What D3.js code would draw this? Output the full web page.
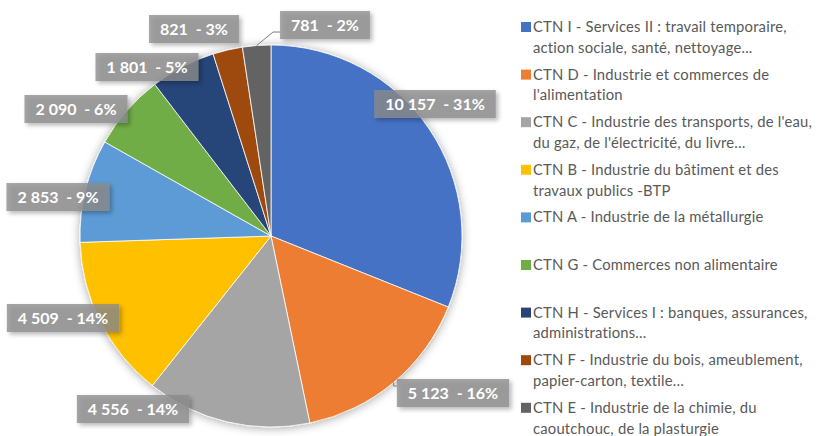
<!DOCTYPE html>
<html>
<head>
<meta charset="utf-8">
<script src="https://cdn.jsdelivr.net/npm/d3@7"></script>
<style>
  html, body { margin: 0; padding: 0; background: #fff; }
  svg { display: block; }
</style>
</head>
<body>
<svg id="chart" width="820" height="436"></svg>
<script>
// Branch codes (CTN) and their legend text, line breaks marked with "\n"
const categories = [
  "CTN I - Services II : travail temporaire,\naction sociale, santé, nettoyage...",
  "CTN D - Industrie et commerces de\nl'alimentation",
  "CTN C - Industrie des transports, de l'eau,\ndu gaz, de l'électricité, du livre…",
  "CTN B - Industrie du bâtiment et des\ntravaux publics -BTP",
  "CTN A - Industrie de la métallurgie",
  "CTN G - Commerces non alimentaire",
  "CTN H - Services I : banques, assurances,\nadministrations...",
  "CTN F - Industrie du bois, ameublement,\npapier-carton, textile…",
  "CTN E - Industrie de la chimie, du\ncaoutchouc, de la plasturgie"
];
const values = [10157, 5123, 4556, 4509, 2853, 2090, 1801, 821, 781];
const sharePct = [31, 16, 14, 14, 9, 6, 5, 3, 2];
const colors = ["#4472C4", "#ED7D31", "#A5A5A5", "#FFC000", "#5B9BD5",
                "#70AD47", "#264478", "#9E480E", "#636363"];

// Label box centres, relative to the pie centre
const labelOffsets = [
  [164, -132], [182, 157], [-138, 173], [-208, 82], [-213, -39],
  [-195, -127], [-124, -169], [-77, -207], [54, -211]
];
// Labels drawn with a leader line back to their slice
const withLeader = [false, true, false, false, false, false, false, false, true];

const W = 820, H = 436;
const cx = 271, cy = 236, R = 191;
const fontFamily = "Lato, 'Open Sans', sans-serif";

const svg = d3.select("#chart");
const defs = svg.append("defs");

const pieShadow = defs.append("filter").attr("id", "pieShadow")
  .attr("x", "-20%").attr("y", "-20%").attr("width", "140%").attr("height", "140%");
pieShadow.append("feDropShadow").attr("dx", 0).attr("dy", 1)
  .attr("stdDeviation", 5).attr("flood-color", "#000").attr("flood-opacity", 0.35);

const boxShadow = defs.append("filter").attr("id", "boxShadow")
  .attr("x", "-20%").attr("y", "-40%").attr("width", "150%").attr("height", "190%");
boxShadow.append("feDropShadow").attr("dx", 2.5).attr("dy", 2.5)
  .attr("stdDeviation", 2).attr("flood-color", "#000").attr("flood-opacity", 0.35);

svg.append("rect").attr("width", W).attr("height", H).attr("fill", "#fff");

const pie = d3.pie().sort(null).value(d => d)(values);
const arc = d3.arc().innerRadius(0).outerRadius(R);

const g = svg.append("g").attr("transform", `translate(${cx},${cy})`);

g.append("g").attr("filter", "url(#pieShadow)")
  .selectAll("path").data(pie).join("path")
  .attr("d", arc)
  .attr("fill", (d, i) => colors[i])
  .attr("stroke", "#fff")
  .attr("stroke-width", 0.8)
  .attr("stroke-linejoin", "round");

// Value labels
const locale = d3.formatLocale({ decimal: ",", thousands: "\u00a0", grouping: [3], currency: ["", " €"] });
const fmt = locale.format(",d");

const labels = g.append("g");
const boxH = 28, padX = 11;

pie.forEach((d, i) => {
  const [ox, oy] = labelOffsets[i];
  const lg = labels.append("g");
  const text = lg.append("text")
    .attr("x", ox).attr("y", oy)
    .attr("dy", "0.36em")
    .attr("text-anchor", "middle")
    .attr("font-family", fontFamily)
    .attr("font-weight", 700)
    .attr("font-size", 16)
    .attr("fill", "#fff")
    .style("white-space", "pre")
    .text(`${fmt(values[i])}  - ${sharePct[i]}%`);
  const tw = text.node().getComputedTextLength();
  const bw = tw + padX * 2;
  const bx = ox - bw / 2, by = oy - boxH / 2;

  if (withLeader[i]) {
    const a = (d.startAngle + d.endAngle) / 2;
    const px = Math.sin(a) * R, py = -Math.cos(a) * R;
    const yAttach = Math.max(by + 7, Math.min(by + boxH - 7, py));
    const elbow = Math.min(7, bx - px);
    lg.insert("polyline", "text")
      .attr("points", [[px, py], [bx - elbow, yAttach], [bx, yAttach]].map(p => p.join(",")).join(" "))
      .attr("fill", "none")
      .attr("stroke", "#7f7f7f")
      .attr("stroke-width", 1);
  }

  lg.insert("rect", "text")
    .attr("x", bx).attr("y", by)
    .attr("width", bw).attr("height", boxH)
    .attr("fill", "#8c8c8c")
    .attr("fill-opacity", 0.78)
    .attr("filter", "url(#boxShadow)");
});

// Legend
const legendX = 521, legendTop = 32, itemStep = 47.6, lineStep = 20.8;
const legend = svg.append("g");
categories.forEach((c, i) => {
  const y = legendTop + i * itemStep;
  legend.append("rect")
    .attr("x", legendX).attr("y", y - 10)
    .attr("width", 10).attr("height", 10)
    .attr("fill", colors[i]);
  const t = legend.append("text")
    .attr("x", legendX + 12).attr("y", y)
    .attr("font-family", fontFamily)
    .attr("font-size", 14.8)
    .attr("letter-spacing", 0.2)
    .attr("fill", "#595959");
  c.split("\n").forEach((line, j) => {
    t.append("tspan").attr("x", legendX + 12).attr("y", y + j * lineStep).text(line);
  });
});
</script>
</body>
</html>
